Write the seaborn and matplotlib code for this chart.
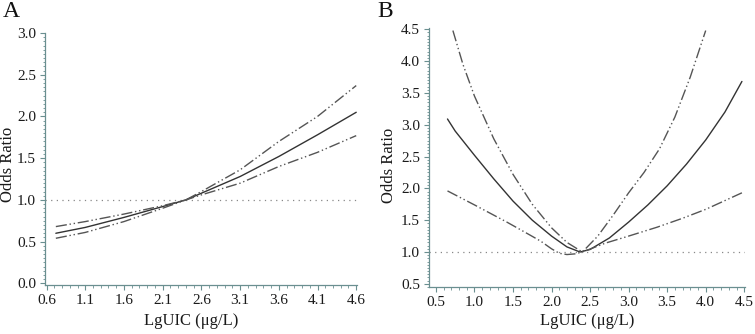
import numpy as np
import pandas as pd
import matplotlib
matplotlib.use("Agg")
import matplotlib.pyplot as plt
from matplotlib.ticker import MultipleLocator, FormatStrFormatter
import seaborn as sns

# ---------------- Data ----------------
# Panel A
a_x = [0.72, 1.1, 1.6, 2.1, 2.4, 2.6, 3.1, 3.6, 4.1, 4.6]
a_or = [0.60, 0.67, 0.79, 0.92, 1.00, 1.08, 1.28, 1.52, 1.78, 2.05]
a_hi = [0.68, 0.74, 0.83, 0.93, 1.00, 1.10, 1.36, 1.70, 2.00, 2.37]
a_lo = [0.54, 0.61, 0.74, 0.90, 1.00, 1.06, 1.20, 1.40, 1.57, 1.77]

# Panel B
b_x_or = [0.65, 0.75, 1.0, 1.25, 1.5, 1.75, 2.0, 2.2, 2.37, 2.5, 2.75, 3.0, 3.25, 3.5, 3.75, 4.0, 4.25, 4.47]
b_or = [3.09, 2.90, 2.52, 2.15, 1.80, 1.50, 1.25, 1.08, 1.00, 1.04, 1.22, 1.47, 1.74, 2.04, 2.38, 2.76, 3.20, 3.68]
b_x_hi = [0.72, 0.85, 1.0, 1.25, 1.5, 1.75, 2.0, 2.2, 2.4, 2.6, 2.8, 3.0, 3.2, 3.4, 3.6, 3.8, 4.0]
b_hi = [4.48, 3.95, 3.45, 2.78, 2.22, 1.75, 1.38, 1.15, 1.00, 1.25, 1.58, 1.93, 2.25, 2.62, 3.12, 3.75, 4.48]
b_x_lo = [0.65, 1.0, 1.42, 1.7, 1.86, 2.0, 2.1, 2.2, 2.3, 2.4, 2.7, 3.0, 3.37, 3.7, 4.0, 4.47]
b_lo = [1.96, 1.74, 1.47, 1.28, 1.17, 1.05, 0.98, 0.96, 0.97, 1.00, 1.14, 1.25, 1.39, 1.53, 1.67, 1.93]

a_xticks = [0.6, 1.1, 1.6, 2.1, 2.6, 3.1, 3.6, 4.1, 4.6]
a_yticks = [0.0, 0.5, 1.0, 1.5, 2.0, 2.5, 3.0]
b_xticks = [0.5, 1.0, 1.5, 2.0, 2.5, 3.0, 3.5, 4.0, 4.5]
b_yticks = [0.5, 1.0, 1.5, 2.0, 2.5, 3.0, 3.5, 4.0, 4.5]

# ---------------- Style ----------------
sns.set_theme(style="white")
plt.rcParams['font.family'] = ['Liberation Serif', 'DejaVu Serif']

SPINE = '#6a8f90'
LINE = '#333333'
CI = '#555555'
CI_DASH = (0, (8, 2, 1, 2, 1, 2))

fig = plt.figure(figsize=(7.55, 3.34), dpi=100)
axA = fig.add_axes([45/755, 1-285/334, 312/755, 252/334])
axB = fig.add_axes([429/755, 1-287/334, 316/755, 259/334])


def draw(ax, xs, ys, dashed):
    df = pd.DataFrame({'x': xs, 'y': ys})
    sns.lineplot(data=df, x='x', y='y', ax=ax, color=CI if dashed else LINE,
                 lw=1.0, sort=False, estimator=None,
                 linestyle=CI_DASH if dashed else '-')


draw(axA, a_x, a_or, False)
draw(axA, a_x, a_hi, True)
draw(axA, a_x, a_lo, True)
draw(axB, b_x_or, b_or, False)
draw(axB, b_x_hi, b_hi, True)
draw(axB, b_x_lo, b_lo, True)

for ax in (axA, axB):
    ax.axhline(1.0, color='#888888', lw=0.9, ls=(0, (1, 3.5)), zorder=0)

axA.set_xlim(0.58, 4.61)
axA.set_ylim(-0.02, 3.0)
axA.set_xticks(a_xticks)
axA.set_yticks(a_yticks)
axA.xaxis.set_minor_locator(MultipleLocator(0.1))
axA.yaxis.set_minor_locator(MultipleLocator(0.05))

axB.set_xlim(0.41, 4.51)
axB.set_ylim(0.45, 4.52)
axB.set_xticks(b_xticks)
axB.set_yticks(b_yticks)
axB.xaxis.set_minor_locator(MultipleLocator(0.1))
axB.yaxis.set_minor_locator(MultipleLocator(0.05))

for ax in (axA, axB):
    ax.xaxis.set_major_formatter(FormatStrFormatter('%.1f'))
    ax.yaxis.set_major_formatter(FormatStrFormatter('%.1f'))
    for s in ('top', 'right'):
        ax.spines[s].set_visible(False)
    for s in ('left', 'bottom'):
        ax.spines[s].set_color(SPINE)
        ax.spines[s].set_linewidth(0.9)
    ax.tick_params(which='major', direction='out', length=3.5, width=0.8,
                   color=SPINE, labelsize=11, labelcolor='#1a1a1a', pad=3,
                   left=True, bottom=True)
    ax.tick_params(which='minor', direction='out', length=1.8, width=0.6,
                   color=SPINE, left=True, bottom=True)
    ax.set_xlabel('LgUIC (μg/L)', fontsize=12, color='#1a1a1a')
    ax.set_ylabel('Odds Ratio', fontsize=12, color='#1a1a1a')
    ax.set_facecolor('white')

axA.yaxis.set_label_coords(-0.093, 0.48)
axA.xaxis.set_label_coords(0.47, -0.11)
axB.yaxis.set_label_coords(-0.10, 0.47)
axB.xaxis.set_label_coords(0.50, -0.10)

fig.text(3/755, 1-1/334, 'A', fontsize=17, va='top', ha='left', color='#111111')
fig.text(377/755, 1-1/334, 'B', fontsize=17, va='top', ha='left', color='#111111')

fig.savefig('out.png', dpi=100, facecolor='white')
